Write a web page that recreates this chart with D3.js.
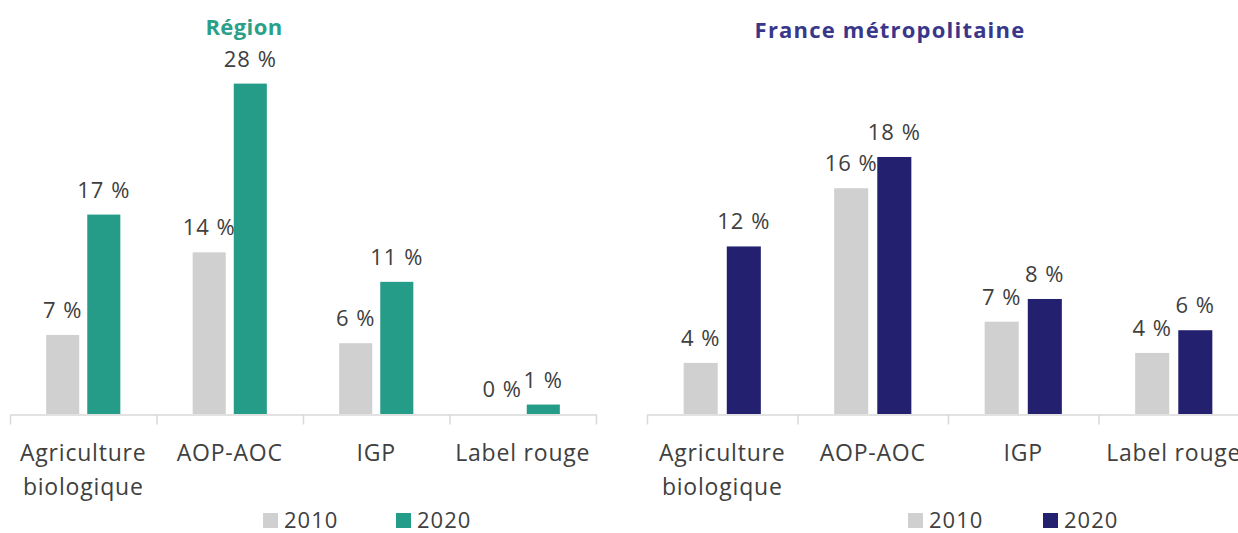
<!DOCTYPE html>
<html lang="fr">
<head>
  <meta charset="UTF-8">
  <title>index</title>
  <style type="text/css">
    body {
      margin: 0;
      background: #ffffff;
    }
    svg text {
      font-family: "Open Sans", sans-serif;
    }
  </style>
</head>
<body>
  <svg id="chart" width="1238" height="533"></svg>

<script src="https://cdn.jsdelivr.net/npm/d3@7/dist/d3.min.js"></script>
<script>
  // categories and series
  const categories = ['Agriculture biologique', 'AOP-AOC', 'IGP', 'Label rouge']
  const years = ['2010', '2020']
  const region2010 = [6.7, 13.7, 6.0, 0.0]
  const region2020 = [16.9, 28.0, 11.2, 0.8]
  const france2010 = [3.6, 15.9, 6.5, 4.3]
  const france2020 = [11.8, 18.1, 8.1, 5.9]

  const grey = '#d0d0d0'
  const textColor = '#404040'
  const fmt = d3.format('.0f')

  const svg = d3.select('#chart')

  function drawPanel (p) {
    const g = svg.append('g')

    const x0 = d3.scaleBand().domain(categories).range([p.left, p.right])
    const x1 = d3.scaleBand().domain(years)
      .range([0, x0.bandwidth()])
      .paddingInner(p.inner)
      .paddingOuter(p.outer)
    const y = d3.scaleLinear().domain([0, p.yMax]).range([p.base, p.top])

    const rows = categories.map((c, i) => ({ cat: c, values: [p.s2010[i], p.s2020[i]] }))
    const colors = [grey, p.color]

    // bars
    const groups = g.selectAll('g.grp').data(rows).join('g')
      .attr('class', 'grp')
      .attr('transform', d => 'translate(' + x0(d.cat) + ',0)')

    groups.selectAll('rect')
      .data(d => d.values.map((v, k) => ({ year: years[k], v: v, k: k })))
      .join('rect')
      .attr('x', d => x1(d.year))
      .attr('width', x1.bandwidth())
      .attr('y', d => y(d.v))
      .attr('height', d => y(0) - y(d.v))
      .attr('fill', d => colors[d.k])

    groups.selectAll('text.val')
      .data(d => d.values.map((v, k) => ({ year: years[k], v: v })))
      .join('text')
      .attr('class', 'val')
      .attr('x', d => x1(d.year) + x1.bandwidth() / 2)
      .attr('y', d => y(d.v) - 17)
      .attr('text-anchor', 'middle')
      .attr('font-size', 22)
      .attr('letter-spacing', 1)
      .attr('fill', textColor)
      .text(d => fmt(d.v) + ' %')

    // axis line with ticks at band edges
    const edges = d3.scaleLinear().domain([0, categories.length]).range([p.left, p.right])
    g.append('g')
      .attr('transform', 'translate(0,' + (p.base + 0.5) + ')')
      .call(d3.axisBottom(edges).tickValues(d3.range(categories.length + 1)).tickFormat('').tickSize(10).tickSizeOuter(0))
      .call(a => a.selectAll('line, path').attr('stroke', '#d9d9d9').attr('stroke-width', 1.5))

    // category labels
    const lab = g.append('g')
      .attr('transform', 'translate(0,' + p.base + ')')
      .call(d3.axisBottom(x0).tickSize(0).tickPadding(0))
    lab.select('.domain').remove()
    lab.selectAll('text')
      .attr('font-size', 23)
      .attr('letter-spacing', 0.8)
      .attr('fill', textColor)
      .attr('dy', null)
      .attr('y', 47)
      .each(function (d) {
        const t = d3.select(this)
        t.text(null)
        const words = d.split(' ')
        const lines = words.length > 1 && d.length > 12 ? words : [d]
        lines.forEach((w, i) => {
          t.append('tspan').attr('x', 0).attr('dy', i === 0 ? 0 : 34).text(w)
        })
      })

    // panel title
    svg.append('text')
      .attr('x', p.titleX)
      .attr('y', p.titleY)
      .attr('text-anchor', 'middle')
      .attr('font-size', 22)
      .attr('font-weight', 'bold')
      .attr('letter-spacing', p.titleSpacing)
      .attr('fill', p.titleColor)
      .text(p.title)

    // legend
    const leg = svg.append('g')
    years.forEach((yr, k) => {
      const lx = p.legendX[k]
      leg.append('rect')
        .attr('x', lx).attr('y', 513)
        .attr('width', 15).attr('height', 15)
        .attr('fill', colors[k])
      leg.append('text')
        .attr('x', lx + 21).attr('y', 528)
        .attr('font-size', 22)
        .attr('letter-spacing', 1)
        .attr('fill', textColor)
        .text(yr)
    })
  }

  drawPanel({
    left: 10, right: 596, base: 414, top: 60, yMax: 30,
    inner: 0.195, outer: 0.88,
    s2010: region2010, s2020: region2020,
    color: '#259c88',
    title: 'Région', titleX: 244, titleY: 35, titleColor: '#2aa08a', titleSpacing: 0.4,
    legendX: [263, 396]
  })

  drawPanel({
    left: 647, right: 1249, base: 414, top: 130, yMax: 20,
    inner: 0.21, outer: 0.85,
    s2010: france2010, s2020: france2020,
    color: '#242070',
    title: 'France métropolitaine', titleX: 890, titleY: 38, titleColor: '#38378a', titleSpacing: 1.2,
    legendX: [908, 1043]
  })
</script>
</body>
</html>
